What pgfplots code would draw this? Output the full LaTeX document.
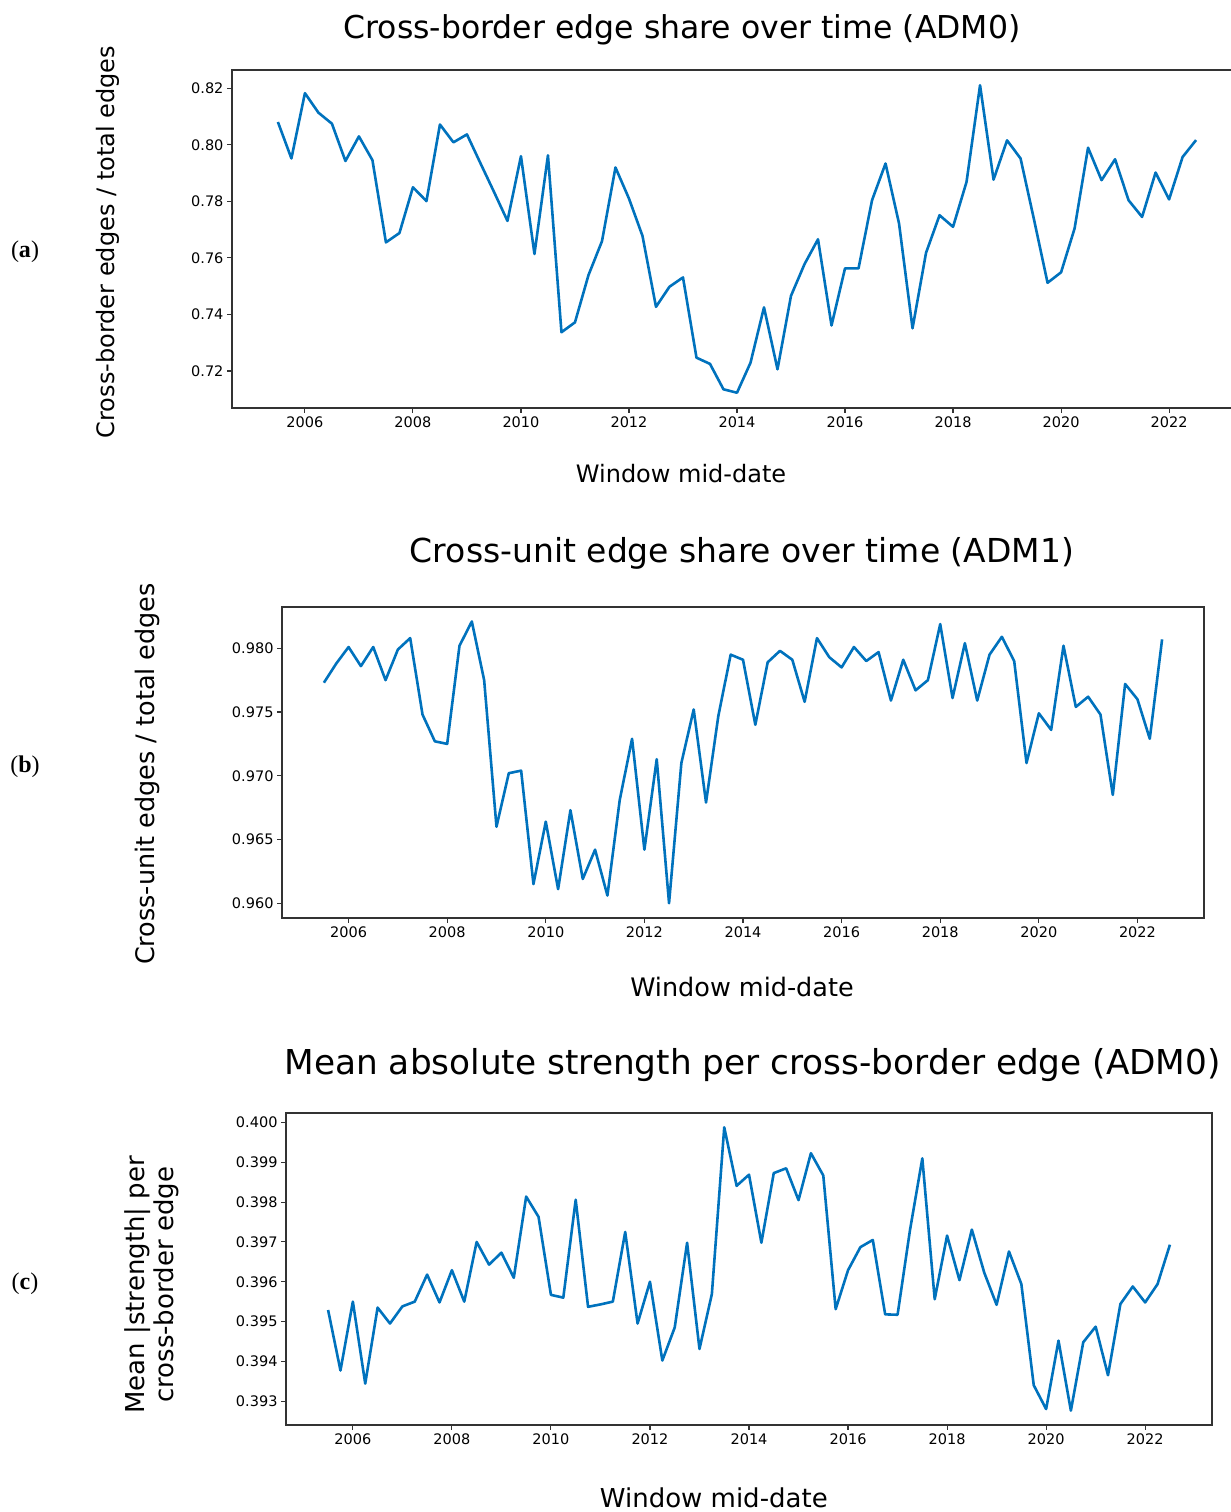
\documentclass[border=0pt]{standalone}
\usepackage{fontspec}
\setmainfont{DejaVu Sans}
\newfontfamily\seriffont{Liberation Serif}
\usepackage{pgfplots}
\usepackage{pgfplotstable}
\pgfplotsset{compat=1.18}
\definecolor{lineblue}{RGB}{0,114,189}

\pgfplotstableread{
x y
2005.50 0.8081
2005.75 0.7952
2006.00 0.8183
2006.25 0.8114
2006.50 0.8075
2006.75 0.7943
2007.00 0.8030
2007.25 0.7946
2007.50 0.7655
2007.75 0.7688
2008.00 0.7850
2008.25 0.7801
2008.50 0.8072
2008.75 0.8009
2009.00 0.8037
2009.25 0.7935
2009.50 0.7834
2009.75 0.7731
2010.00 0.7960
2010.25 0.7614
2010.50 0.7963
2010.75 0.7337
2011.00 0.7372
2011.25 0.7539
2011.50 0.7659
2011.75 0.7920
2012.00 0.7810
2012.25 0.7678
2012.50 0.7427
2012.75 0.7498
2013.00 0.7531
2013.25 0.7247
2013.50 0.7225
2013.75 0.7135
2014.00 0.7123
2014.25 0.7229
2014.50 0.7425
2014.75 0.7206
2015.00 0.7466
2015.25 0.7578
2015.50 0.7666
2015.75 0.7361
2016.00 0.7563
2016.25 0.7563
2016.50 0.7804
2016.75 0.7934
2017.00 0.7722
2017.25 0.7351
2017.50 0.7618
2017.75 0.7751
2018.00 0.7710
2018.25 0.7869
2018.50 0.8211
2018.75 0.7877
2019.00 0.8016
2019.25 0.7952
2019.50 0.7735
2019.75 0.7512
2020.00 0.7549
2020.25 0.7704
2020.50 0.7990
2020.75 0.7875
2021.00 0.7949
2021.25 0.7804
2021.50 0.7745
2021.75 0.7902
2022.00 0.7807
2022.25 0.7957
2022.50 0.8017
}\dataA

\pgfplotstableread{
x y
2005.50 0.9773
2005.75 0.9788
2006.00 0.9801
2006.25 0.9786
2006.50 0.9801
2006.75 0.9775
2007.00 0.9799
2007.25 0.9808
2007.50 0.9748
2007.75 0.9727
2008.00 0.9725
2008.25 0.9802
2008.50 0.9821
2008.75 0.9775
2009.00 0.9660
2009.25 0.9702
2009.50 0.9704
2009.75 0.9615
2010.00 0.9664
2010.25 0.9611
2010.50 0.9673
2010.75 0.9619
2011.00 0.9642
2011.25 0.9606
2011.50 0.9681
2011.75 0.9729
2012.00 0.9642
2012.25 0.9713
2012.50 0.9600
2012.75 0.9710
2013.00 0.9752
2013.25 0.9679
2013.50 0.9747
2013.75 0.9795
2014.00 0.9791
2014.25 0.9740
2014.50 0.9789
2014.75 0.9798
2015.00 0.9791
2015.25 0.9758
2015.50 0.9808
2015.75 0.9793
2016.00 0.9785
2016.25 0.9801
2016.50 0.9790
2016.75 0.9797
2017.00 0.9759
2017.25 0.9791
2017.50 0.9767
2017.75 0.9775
2018.00 0.9819
2018.25 0.9761
2018.50 0.9804
2018.75 0.9759
2019.00 0.9795
2019.25 0.9809
2019.50 0.9790
2019.75 0.9710
2020.00 0.9749
2020.25 0.9736
2020.50 0.9802
2020.75 0.9754
2021.00 0.9762
2021.25 0.9748
2021.50 0.9685
2021.75 0.9772
2022.00 0.9760
2022.25 0.9729
2022.50 0.9807
}\dataB

\pgfplotstableread{
x y
2005.50 0.39529
2005.75 0.39377
2006.00 0.39550
2006.25 0.39344
2006.50 0.39535
2006.75 0.39495
2007.00 0.39538
2007.25 0.39550
2007.50 0.39618
2007.75 0.39548
2008.00 0.39629
2008.25 0.39550
2008.50 0.39700
2008.75 0.39643
2009.00 0.39673
2009.25 0.39610
2009.50 0.39814
2009.75 0.39763
2010.00 0.39567
2010.25 0.39560
2010.50 0.39806
2010.75 0.39537
2011.00 0.39543
2011.25 0.39550
2011.50 0.39725
2011.75 0.39495
2012.00 0.39600
2012.25 0.39402
2012.50 0.39485
2012.75 0.39698
2013.00 0.39431
2013.25 0.39569
2013.50 0.39988
2013.75 0.39841
2014.00 0.39869
2014.25 0.39698
2014.50 0.39873
2014.75 0.39885
2015.00 0.39805
2015.25 0.39923
2015.50 0.39867
2015.75 0.39531
2016.00 0.39629
2016.25 0.39687
2016.50 0.39705
2016.75 0.39518
2017.00 0.39517
2017.25 0.39729
2017.50 0.39910
2017.75 0.39556
2018.00 0.39716
2018.25 0.39604
2018.50 0.39731
2018.75 0.39623
2019.00 0.39542
2019.25 0.39676
2019.50 0.39594
2019.75 0.39340
2020.00 0.39280
2020.25 0.39452
2020.50 0.39276
2020.75 0.39448
2021.00 0.39487
2021.25 0.39365
2021.50 0.39544
2021.75 0.39588
2022.00 0.39548
2022.25 0.39594
2022.50 0.39693
}\dataC

\pgfplotsset{
  panel/.style={
    scale only axis,
    anchor=south west,
    xmin=2004.65, xmax=2023.35,
    axis line style={line width=1.3pt, black!80},
    every tick/.style={line width=1.1pt, black!80},
    tick align=outside,
    major tick length=5pt,
    xtick={2006,2008,...,2022},
    xtick pos=bottom, ytick pos=left,
    scaled ticks=false,
    /pgf/number format/assume math mode=true,
    xticklabel style={/pgf/number format/1000 sep={}, font=\fontsize{14.5}{16}\selectfont},
    yticklabel style={/pgf/number format/fixed, /pgf/number format/fixed zerofill, font=\fontsize{14.5}{16}\selectfont},
    xticklabel={\pgfmathprintnumber[1000 sep={},assume math mode=true]{\tick}},
    title style={anchor=center},
    xlabel style={anchor=center},
    ylabel style={anchor=center},
  },
  dataline/.style={lineblue, line width=2.6pt, line join=round},
}

\begin{document}
\begin{tikzpicture}
\path[use as bounding box] (0pt,0pt) rectangle (1231pt,1512pt);

% Panel (a)
\begin{axis}[panel,
  at={(232pt,1104pt)},
  width=1010pt, height=338pt,
  ymin=0.7069, ymax=0.8265,
  ytick={0.72,0.74,0.76,0.78,0.80,0.82},
  yticklabel style={/pgf/number format/precision=2},
  title={Cross-border edge share over time (ADM0)},
  title style={at={(0.4455,1.1006)}, font=\fontsize{31.5}{36}\selectfont},
  xlabel={Window mid-date},
  xlabel style={at={(0.4446,-0.195)}, font=\fontsize{24}{28}\selectfont},
  ylabel={Cross-border edges / total edges},
  ylabel style={at={(-0.1228,0.491)}, font=\fontsize{24}{28}\selectfont},
]
\addplot[dataline] table[x=x,y=y] {\dataA};
\end{axis}

% Panel (b)
\begin{axis}[panel,
  at={(282pt,594pt)},
  width=922pt, height=311pt,
  ymin=0.95884, ymax=0.98324,
  ytick={0.960,0.965,0.970,0.975,0.980},
  yticklabel style={/pgf/number format/precision=3},
  title={Cross-unit edge share over time (ADM1)},
  title style={at={(0.4989,1.154)}, font=\fontsize{33}{38}\selectfont},
  xlabel={Window mid-date},
  xlabel style={at={(0.4989,-0.222)}, font=\fontsize{25.5}{30}\selectfont},
  ylabel={Cross-unit edges / total edges},
  ylabel style={at={(-0.146,0.463)}, font=\fontsize{25.5}{30}\selectfont},
]
\addplot[dataline] table[x=x,y=y] {\dataB};
\end{axis}

% Panel (c)
\begin{axis}[panel,
  at={(286pt,87pt)},
  width=926pt, height=312pt,
  ymin=0.39240, ymax=0.40024,
  ytick={0.393,0.394,0.395,0.396,0.397,0.398,0.399,0.400},
  yticklabel style={/pgf/number format/precision=3},
  title={Mean absolute strength per cross-border edge (ADM0)},
  title style={at={(0.504,1.135)}, font=\fontsize{34.3}{40}\selectfont},
  xlabel={Window mid-date},
  xlabel style={at={(0.462,-0.234)}, font=\fontsize{26}{30}\selectfont},
  ylabel={Mean |strength| per\\cross-border edge},
  ylabel style={at={(-0.1447,0.449)}, align=center, font=\fontsize{26}{29}\selectfont},
]
\addplot[dataline] table[x=x,y=y] {\dataC};
\end{axis}

\node[font=\seriffont\fontsize{24}{28}\selectfont] at (25pt,1260pt) {(\textbf{a})};
\node[font=\seriffont\fontsize{24}{28}\selectfont] at (25pt,745pt) {(\textbf{b})};
\node[font=\seriffont\fontsize{24}{28}\selectfont] at (25pt,228pt) {(\textbf{c})};
\end{tikzpicture}
\end{document}
